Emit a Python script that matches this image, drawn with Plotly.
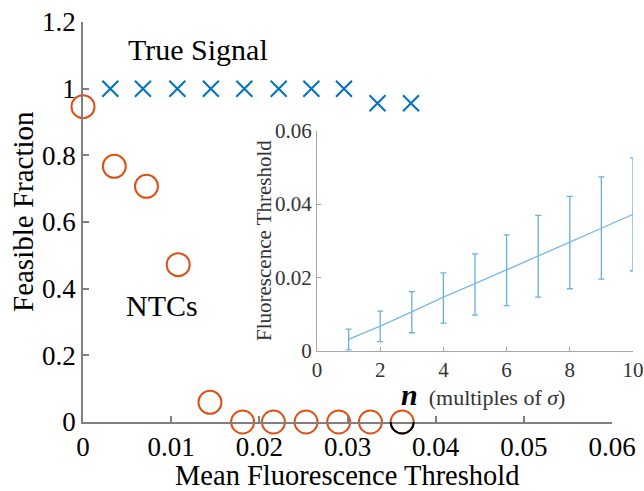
import plotly.graph_objects as go

# Main panel data
signal_x = [0.0031, 0.0068, 0.0107, 0.0145, 0.0183, 0.0222, 0.0259, 0.0296, 0.0334, 0.0372]
signal_y = [1.0, 1.0, 1.0, 1.0, 1.0, 1.0, 1.0, 1.0, 0.956, 0.956]
ntc_x = [0.0, 0.00355, 0.0072, 0.0108, 0.0144, 0.0181, 0.0216, 0.0253, 0.0290, 0.0326, 0.0362]
ntc_y = [0.946, 0.767, 0.707, 0.472, 0.059, 0.0, 0.0, 0.0, 0.0, 0.0, 0.0]
main_xticks = [0, 0.01, 0.02, 0.03, 0.04, 0.05, 0.06]
main_xticktext = ["0", "0.01", "0.02", "0.03", "0.04", "0.05", "0.06"]
main_yticks = [0, 0.2, 0.4, 0.6, 0.8, 1.0, 1.2]
main_yticktext = ["0", "0.2", "0.4", "0.6", "0.8", "1", "1.2"]

# Inset data
n_vals = [1, 2, 3, 4, 5, 6, 7, 8, 9, 10]
thr_mean = [0.0031, 0.0067, 0.0106, 0.0146, 0.0183, 0.0220, 0.0259, 0.0296, 0.0334, 0.0372]
thr_upper = [0.0059, 0.0108, 0.0161, 0.0212, 0.0264, 0.0316, 0.0369, 0.0421, 0.0474, 0.0526]
thr_lower = [0.0002, 0.00245, 0.0049, 0.0075, 0.0097, 0.0123, 0.0146, 0.0169, 0.0195, 0.0218]
inset_xticks = [0, 2, 4, 6, 8, 10]
inset_yticks = [0, 0.02, 0.04, 0.06]
inset_yticktext = ["0", "0.02", "0.04", "0.06"]

FONT = "Liberation Serif"
W, H = 644, 491
ML, MR, MT, MB = 83, 5, 22, 69
PW = W - ML - MR
PH = H - MT - MB
YMAX = 1.2


def px(xp):
    return (xp - ML) / PW


def py(yp):
    return (H - MB - yp) / PH


fig = go.Figure()

fig.add_trace(go.Scatter(
    x=signal_x, y=signal_y, mode="markers", cliponaxis=False,
    marker=dict(symbol="x-thin-open", size=16, color="#0072BD",
                line=dict(width=2, color="#0072BD")),
    xaxis="x", yaxis="y", showlegend=False))

fig.add_trace(go.Scatter(
    x=ntc_x, y=ntc_y, mode="markers", cliponaxis=False,
    marker=dict(symbol="circle-open", size=23, color="#D95319",
                line=dict(width=2, color="#D95319")),
    xaxis="x", yaxis="y", showlegend=False))

err_plus = [u - m for u, m in zip(thr_upper, thr_mean)]
err_minus = [m - l for m, l in zip(thr_mean, thr_lower)]
fig.add_trace(go.Scatter(
    x=n_vals, y=thr_mean, mode="lines",
    line=dict(color="#7ab8e6", width=1.3),
    error_y=dict(type="data", array=err_plus, arrayminus=err_minus,
                 color="#6aaee0", thickness=1.3, width=3),
    xaxis="x2", yaxis="y2", showlegend=False))

# black lower half of the last NTC circle (paper y so it is not clipped)
r = 11.5
k = 0.5523 * r
fig.add_shape(type="path", xref="x", yref="paper", xsizemode="pixel", ysizemode="pixel",
              xanchor=ntc_x[-1], yanchor=ntc_y[-1] / YMAX,
              path=f"M {-r},0 C {-r},{-k} {-k},{-r} 0,{-r} C {k},{-r} {r},{-k} {r},0",
              line=dict(color="black", width=2), layer="above")

main_axis_color = "#7f7f7f"
inset_axis_color = "#a6a6a6"

fig.update_layout(
    width=W, height=H,
    margin=dict(l=ML, r=MR, t=MT, b=MB, autoexpand=False),
    paper_bgcolor="white", plot_bgcolor="white",
    font=dict(family=FONT, color="black"),
    xaxis=dict(domain=[0, 529 / PW], range=[0, 0.06], automargin=False,
               tickvals=main_xticks, ticktext=main_xticktext,
               ticks="inside", ticklen=6, tickcolor=main_axis_color, tickwidth=1.5,
               showline=True, linecolor=main_axis_color, linewidth=1.5,
               showgrid=False, zeroline=False,
               tickfont=dict(size=27, family=FONT, color="black")),
    yaxis=dict(domain=[0, 1], range=[0, YMAX], automargin=False,
               tickvals=main_yticks, ticktext=main_yticktext,
               ticks="inside", ticklen=6, tickcolor=main_axis_color, tickwidth=1.5,
               showline=True, linecolor=main_axis_color, linewidth=1.5,
               showgrid=False, zeroline=False,
               tickfont=dict(size=27, family=FONT, color="black")),
    xaxis2=dict(domain=[px(317), px(633)], range=[0, 10], anchor="y2", automargin=False,
                tickvals=inset_xticks,
                ticks="inside", ticklen=4, tickcolor=inset_axis_color, tickwidth=1,
                showline=True, linecolor=inset_axis_color, linewidth=1,
                showgrid=False, zeroline=False,
                tickfont=dict(size=21, family=FONT, color="#333333")),
    yaxis2=dict(domain=[py(350.7), py(130.7)], range=[0, 0.06], anchor="x2", automargin=False,
                tickvals=inset_yticks, ticktext=inset_yticktext,
                ticks="inside", ticklen=4, tickcolor=inset_axis_color, tickwidth=1,
                showline=True, linecolor=inset_axis_color, linewidth=1,
                showgrid=False, zeroline=False,
                tickfont=dict(size=21, family=FONT, color="#333333")),
)


def label(xp, yp, text, size, color="black", angle=0):
    fig.add_annotation(x=px(xp), y=py(yp), xref="paper", yref="paper",
                       xanchor="center", yanchor="middle", textangle=angle,
                       text=text, showarrow=False, borderpad=0,
                       font=dict(size=size, family=FONT, color=color))


label(347.5, 475, "Mean Fluorescence Threshold", 28.5)
label(23, 212, "Feasible Fraction", 29, angle=-90)
label(264, 241, "Fluorescence Threshold", 21, color="#333333", angle=-90)
label(198, 49, "True Signal", 30)
label(161.5, 305, "NTCs", 30)
label(483, 394,
      "<span style='font-size:30px;color:black'><b><i>n</i></b></span>  (multiples of <i>σ</i>)",
      22, color="#333333")

fig.write_html("out.html")
